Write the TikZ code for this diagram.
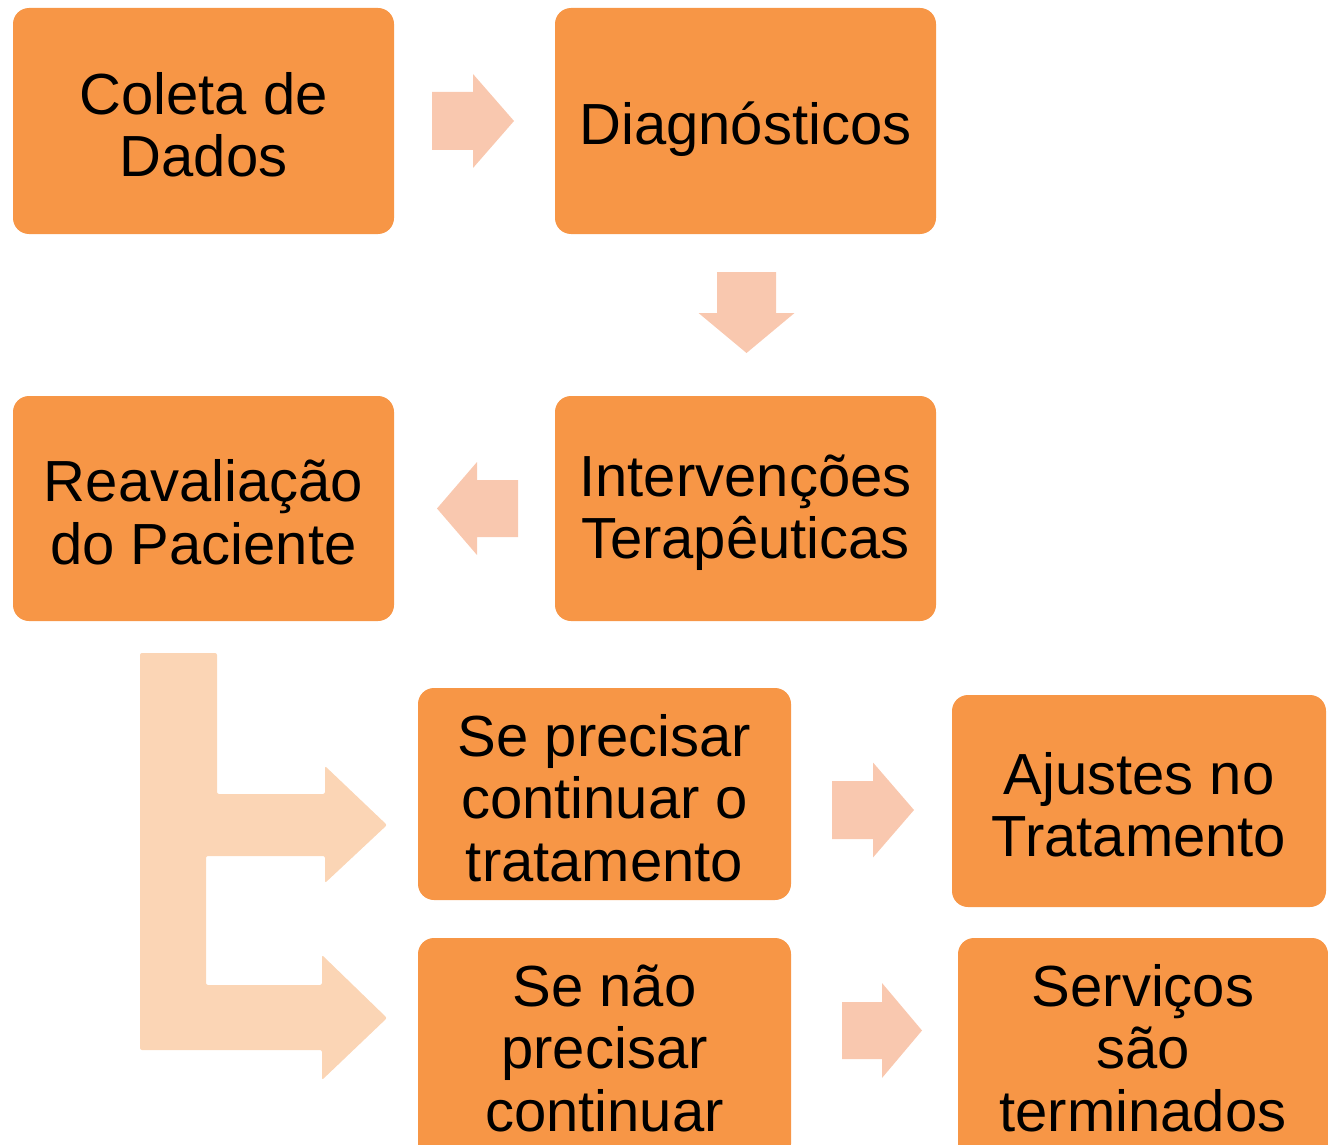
\documentclass[tikz,border=0pt]{standalone}
\usepackage{fontspec}
\setmainfont{Liberation Sans}
\definecolor{boxor}{HTML}{F79646}
\definecolor{arrpe}{HTML}{F9C8AF}
\definecolor{brkpe}{HTML}{FBD5B5}
\begin{document}
\begin{tikzpicture}[x=1pt,y=-1pt,
  box/.style={fill=boxor, rounded corners=16pt, inner sep=0pt},
  txt/.style={align=center, inner sep=0pt, yshift=-4pt,
    font=\fontsize{58}{62.5}\selectfont},
  pics/barrow/.style n args={4}{code={
    \fill[arrpe] (-#1/2,-#2/2) -- (#1/2-#4,-#2/2) -- (#1/2-#4,-#3/2) -- (#1/2,0)
      -- (#1/2-#4,#3/2) -- (#1/2-#4,#2/2) -- (-#1/2,#2/2) -- cycle;}}]
\useasboundingbox (0,0) rectangle (1328,1145);
\clip (0,0) rectangle (1328,1145);

% boxes
\node[box, minimum width=381pt, minimum height=226pt,
  label={[txt]center:{Coleta de\\Dados}}] (coleta) at (203.5,121) {};
\node[box, minimum width=381pt, minimum height=226pt,
  label={[txt, yshift=-4pt]center:{Diagnósticos}}] (diag) at (745.5,121) {};
\node[box, minimum width=381pt, minimum height=225pt,
  label={[txt]center:{Reavaliação\\do Paciente}}] (reav) at (203.5,508.5) {};
\node[box, minimum width=381pt, minimum height=225pt,
  label={[txt]center:{Intervenções\\Terapêuticas}}] (interv) at (745.5,508.5) {};
\node[box, minimum width=373pt, minimum height=212pt,
  label={[txt]center:{Se precisar\\continuar o\\tratamento}}] (seprec) at (604.5,794) {};
\node[box, minimum width=374pt, minimum height=212pt,
  label={[txt]center:{Ajustes no\\Tratamento}}] (ajustes) at (1139,801) {};
\node[box, minimum width=373pt, minimum height=222pt,
  label={[txt, yshift=5pt]center:{Se não\\precisar\\continuar}}] (senao) at (604.5,1049) {};
\node[box, minimum width=370pt, minimum height=222pt,
  label={[txt, yshift=5pt]center:{Serviços\\são\\terminados}}] (servicos) at (1143,1049) {};

% block arrows (length, shaft width, head width, head length)
\pic (a1) at (473,121) {barrow={82}{58}{94}{41}};
\pic[rotate=-90] (a2) at (746.5,312.5) {barrow={81}{59}{96}{40}};
\pic[rotate=180] (a3) at (477.5,508.5) {barrow={81}{57}{93}{40}};
\pic (a4) at (873,810) {barrow={82}{58}{95}{41}};
\pic (a5) at (882,1030.5) {barrow={80}{57}{95}{40}};

% bracket arrow from Reavaliação
\fill[brkpe, rounded corners=2pt] (140,653) -- (217,653) -- (217,794) -- (325,794) -- (325,766)
  -- (387,825) -- (325,883) -- (325,856) -- (206,856) -- (206,985) -- (322,985) -- (322,955)
  -- (387,1018) -- (322,1080) -- (322,1050) -- (140,1050) -- cycle;
\end{tikzpicture}
\end{document}
